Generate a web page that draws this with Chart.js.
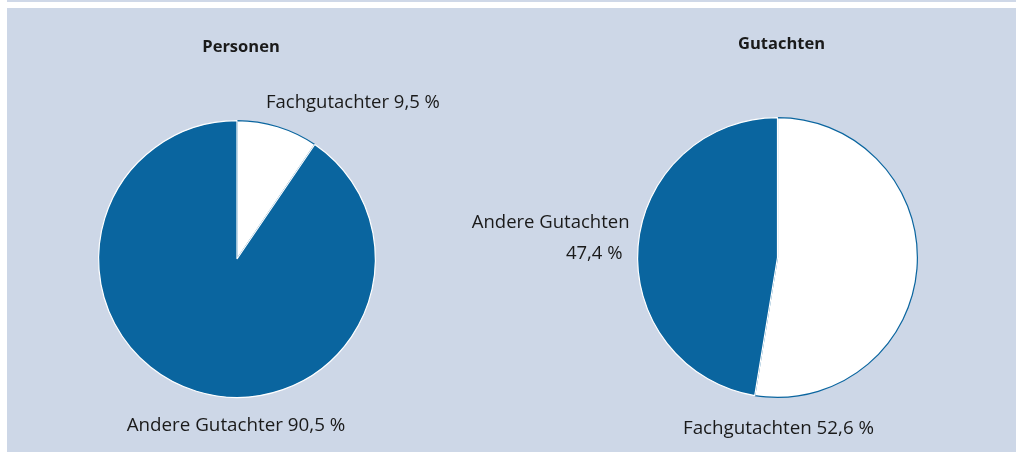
<!DOCTYPE html>
<html><head><meta charset="utf-8">
<script src="https://cdn.jsdelivr.net/npm/chart.js@4/dist/chart.umd.min.js"></script>
<style>
html,body{margin:0;padding:0;background:#fff;width:1016px;height:452px;overflow:hidden}
#topline{position:absolute;left:7px;top:0;width:1009px;height:2px;background:#cfd8e8}
#panel{position:absolute;left:7px;top:8px;width:1009px;height:444px;background:#cdd7e7}
.box{position:absolute;top:8px;height:444px}
</style></head>
<body>
<div id="topline"></div>
<div id="panel"></div>
<div class="box" style="left:7px;width:500px"><canvas id="c1" width="500" height="444"></canvas></div>
<div class="box" style="left:430px;width:586px"><canvas id="c2" width="586" height="444"></canvas></div>
<script>
const personenTitle = "Personen";
const personenLabels = ["Fachgutachter", "Andere Gutachter"];
const personenValues = [9.5, 90.5];
const gutachtenTitle = "Gutachten";
const gutachtenLabels = ["Fachgutachten", "Andere Gutachten"];
const gutachtenValues = [52.6, 47.4];

const BLUE = "#0a659f";
const TEXT = "#1a1a1a";
const FONT = "'Open Sans', 'DejaVu Sans', sans-serif";
const fmt = v => v.toFixed(1).replace('.', ',') + ' %';

function textPlugin(items) {
  return {
    id: 'txt',
    afterDraw(chart) {
      const ctx = chart.ctx;
      const a = chart.chartArea;
      const cx = (a.left + a.right) / 2, cy = (a.top + a.bottom) / 2;
      ctx.save();
      ctx.fillStyle = TEXT;
      ctx.textBaseline = 'middle';
      items.forEach(it => {
        ctx.font = (it.bold ? 'bold ' : '') + it.size + 'px ' + FONT;
        ctx.textAlign = it.align || 'center';
        ctx.fillText(it.text, cx + it.dx, cy + it.dy);
      });
      ctx.restore();
    }
  };
}

function makePie(id, labels, values, padding, items) {
  return new Chart(document.getElementById(id), {
    type: 'pie',
    data: {
      labels: labels,
      datasets: [{
        data: values,
        backgroundColor: ['#ffffff', BLUE],
        borderColor: [BLUE, '#ffffff'],
        borderWidth: 1.2
      }]
    },
    options: {
      responsive: false,
      animation: false,
      layout: { padding: padding },
      plugins: { legend: { display: false }, tooltip: { enabled: false }, title: { display: false } }
    },
    plugins: [textPlugin(items)]
  });
}

makePie('c1', personenLabels, personenValues,
  { left: 91, top: 112, right: 131, bottom: 54 },
  [
    { text: personenTitle, dx: 4, dy: -212, size: 16.5, bold: true },
    { text: personenLabels[0] + ' ' + fmt(personenValues[0]), dx: 29, dy: -156, size: 18.5, align: 'left' },
    { text: personenLabels[1] + ' ' + fmt(personenValues[1]), dx: -1, dy: 167, size: 18.8 }
  ]);

makePie('c2', gutachtenLabels, gutachtenValues,
  { left: 207, top: 109, right: 98, bottom: 54 },
  [
    { text: gutachtenTitle, dx: 4, dy: -213, size: 16.5, bold: true },
    { text: gutachtenLabels[1], dx: -148, dy: -35, size: 18.5, align: 'right' },
    { text: fmt(gutachtenValues[1]), dx: -155, dy: -4, size: 18.5, align: 'right' },
    { text: gutachtenLabels[0] + ' ' + fmt(gutachtenValues[0]), dx: 1, dy: 171, size: 18.8 }
  ]);
</script>
</body></html>
